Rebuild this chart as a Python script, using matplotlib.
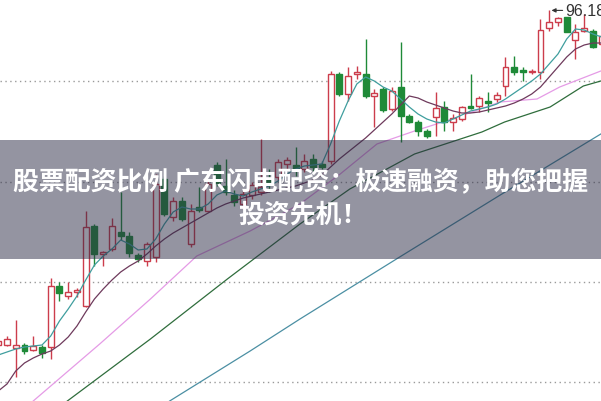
"""Candlestick chart with moving averages and a promo banner."""

import matplotlib
matplotlib.use("Agg")
import matplotlib.pyplot as plt
from matplotlib.patches import Rectangle

# candle index (one per trading day) and OHLC prices
DAYS = list(range(-1, 69))
OPEN = [62.72, 62.72, 62.42, 62.72, 62.22, 62.52, 62.52, 68.62, 67.62, 68.02,
        66.62, 74.62, 71.82, 72.32, 74.02, 73.62, 71.72, 71.12, 71.52, 79.32,
        75.52, 77.12, 72.82, 76.52, 76.12, 80.72, 78.62, 77.72, 76.82, 77.72,
        78.02, 79.32, 79.52, 80.82, 80.72, 80.32, 81.32, 80.82, 81.12, 89.82,
        87.82, 89.82, 89.82, 87.62, 88.32, 86.32, 88.52, 85.62, 85.02, 84.12,
        85.52, 86.52, 85.02, 85.32, 86.62, 86.62, 87.12, 87.32, 88.62, 90.52,
        90.22, 90.02, 90.02, 94.42, 95.02, 95.52, 93.22, 94.12, 94.12, 92.82]
HIGH = [63.52, 63.62, 65.22, 62.92, 63.62, 62.72, 69.42, 69.02, 69.02, 68.42,
        76.12, 74.82, 72.12, 75.42, 78.02, 74.02, 71.92, 73.02, 79.82, 79.62,
        77.52, 77.52, 76.82, 78.52, 79.12, 81.02, 81.32, 78.22, 78.12, 79.02,
        83.32, 80.32, 81.32, 81.52, 82.52, 81.82, 81.82, 81.12, 90.12, 90.02,
        90.52, 90.62, 93.32, 88.32, 88.52, 88.52, 93.02, 85.82, 85.22, 84.32,
        88.02, 87.12, 85.82, 86.62, 89.82, 87.62, 88.02, 88.02, 91.52, 91.62,
        90.52, 90.32, 95.32, 96.18, 95.52, 95.52, 94.82, 95.82, 94.32, 93.82]
LOW = [62.32, 62.62, 59.52, 61.82, 62.12, 61.42, 61.32, 67.12, 67.32, 67.52,
       66.52, 70.62, 70.62, 72.12, 73.22, 71.52, 71.02, 70.62, 71.02, 75.62,
       75.12, 75.12, 72.52, 76.02, 76.02, 78.62, 77.72, 76.62, 76.52, 77.32,
       77.72, 78.02, 79.12, 80.32, 79.62, 80.02, 80.12, 80.32, 80.82, 87.62,
       87.12, 89.32, 87.42, 84.52, 86.02, 86.12, 83.02, 84.92, 83.62, 83.42,
       83.62, 84.12, 84.12, 85.12, 86.32, 86.02, 86.02, 87.02, 87.62, 89.72,
       89.12, 89.82, 89.32, 94.12, 94.62, 94.02, 91.32, 94.02, 92.42, 92.62]
CLOSE = [63.12, 63.32, 62.72, 62.12, 62.62, 61.92, 68.62, 67.92, 68.02, 68.22,
         74.52, 71.82, 72.02, 74.62, 73.62, 71.92, 71.32, 72.82, 78.82, 75.82,
         77.12, 75.32, 76.12, 76.22, 78.82, 78.92, 78.02, 77.02, 77.82, 78.72,
         78.52, 78.82, 81.02, 81.22, 80.22, 81.12, 80.52, 80.52, 89.82, 87.82,
         89.62, 90.02, 87.62, 87.92, 86.22, 88.12, 85.62, 85.02, 84.12, 83.62,
         86.42, 85.02, 85.42, 86.52, 86.42, 87.42, 86.92, 87.72, 90.52, 90.02,
         90.02, 90.12, 94.22, 95.02, 95.42, 94.02, 94.02, 94.42, 92.52, 93.62]

# moving averages
MA5 = [61.72, 62.02, 62.32, 62.52, 62.62, 62.72, 63.62, 65.12, 66.32, 67.62,
       69.22, 70.72, 71.62, 72.32, 73.22, 72.82, 72.22, 72.32, 73.32, 74.82,
       76.02, 76.52, 76.32, 76.32, 76.82, 77.72, 78.12, 77.82, 77.62, 78.02,
       78.32, 78.62, 79.12, 79.82, 80.32, 80.62, 80.72, 80.82, 82.82, 85.12,
       87.12, 88.82, 89.52, 89.12, 88.52, 88.12, 87.32, 86.52, 85.82, 85.32,
       85.02, 84.92, 85.32, 85.72, 86.12, 86.32, 86.52, 86.82, 87.32, 87.92,
       88.52, 89.12, 89.82, 90.82, 91.82, 93.32, 94.32, 94.22, 93.82, 93.52]
MA10 = [58.12, 58.82, 60.12, 60.92, 61.42, 61.82, 62.12, 62.72, 63.52, 64.62,
        66.02, 67.32, 68.32, 69.22, 70.02, 70.62, 71.12, 71.82, 72.62, 73.32,
        73.92, 74.42, 74.92, 75.42, 75.92, 76.42, 76.82, 77.12, 77.42, 77.62,
        77.82, 78.02, 78.22, 78.42, 78.62, 78.92, 79.22, 79.72, 80.52, 81.32,
        82.02, 82.72, 83.42, 84.22, 85.02, 85.82, 86.72, 87.62, 87.42, 87.02,
        86.72, 86.42, 86.12, 85.92, 85.92, 86.02, 86.22, 86.42, 86.62, 86.92,
        87.32, 87.82, 88.52, 89.52, 90.52, 91.52, 92.32, 92.72, 92.92, 92.92]
MA20_X = [-1, 3.0, 10.6, 16.4, 21.7, 27.8, 33.5, 38.1, 42.3, 46.6, 50.9, 56.4,
          60.6, 63.2, 67.9, 69]
MA20 = [54.1, 57.12, 62.82, 67.32, 71.62, 74.12, 76.82, 79.82, 82.82, 84.12,
        85.32, 87.02, 87.32, 88.52, 90.12, 90.4]
MA30_X = [0, 6.9, 16.4, 25.2, 33.5, 39.2, 46.6, 54.3, 56.9, 62.1, 65.9, 67.9, 69]
MA30 = [52.6, 57.12, 63.32, 69.32, 74.82, 78.32, 81.82, 84.02, 85.02, 86.52,
        88.62, 89.12, 89.3]
MA60_X = [14, 18.6, 27.8, 33.5, 44.9, 56.4, 67.9, 69]
MA60 = [54.0, 57.12, 62.12, 65.32, 71.52, 77.72, 83.82, 84.4]

GRID_LEVELS = [89.12, 79.02, 69.02, 59.02]
PEAK_DAY = 62
PEAK_LABEL = "96.18"

TITLE_LINE1 = "股票配资比例 广东闪电配资：极速融资，助您把握"
TITLE_LINE2 = "投资先机！"

UP = "#cc3d4c"
DOWN = "#1f8a38"

fig = plt.figure(figsize=(6.01, 4.02), dpi=100)
ax = fig.add_axes([0, 0, 1, 1])
ax.set_xlim(-0.8, 67.92)
ax.set_ylim(57.12, 97.32)
ax.axis("off")

for level in GRID_LEVELS:
    ax.axhline(level, color="#9a9a9a", lw=1.0, ls=(0, (1, 2.5)), zorder=1)

body_w = 0.68
for d, o, h, l, c in zip(DAYS, OPEN, HIGH, LOW, CLOSE):
    up = c >= o
    col = UP if up else DOWN
    lo, hi = min(o, c), max(o, c)
    ax.vlines(d, l, lo, color=col, lw=1.0, zorder=3)
    ax.vlines(d, hi, h, color=col, lw=1.0, zorder=3)
    ax.add_patch(Rectangle((d - body_w / 2, lo), body_w, max(hi - lo, 0.08),
                           facecolor="white" if up else col, edgecolor=col,
                           lw=1.0, zorder=4))

ax.plot(DAYS, MA5, color="#3f9e9e", lw=0.9, zorder=5)
ax.plot(DAYS, MA10, color="#6e3a5c", lw=0.9, zorder=5)
ax.plot(MA20_X, MA20, color="#e59be6", lw=0.9, zorder=2)
ax.plot(MA30_X, MA30, color="#2f6d3c", lw=0.9, zorder=2)
ax.plot(MA60_X, MA60, color="#4b8fa3", lw=0.9, zorder=2)

peak = HIGH[DAYS.index(PEAK_DAY)]
ax.annotate(PEAK_LABEL, xy=(PEAK_DAY + 0.1, peak),
            xytext=(63.85, peak), va="center", ha="left",
            fontsize=11.5, color="#333333", family="Liberation Sans",
            arrowprops=dict(arrowstyle="-|>", color="#333333", lw=0.8,
                            mutation_scale=6, shrinkA=0, shrinkB=1))

fig.patches.append(Rectangle((0, 1 - 260 / 402), 1, 119 / 402,
                             transform=fig.transFigure, facecolor="#2b2b45",
                             alpha=0.5, edgecolor="none", zorder=10))

cjk = ["Noto Sans CJK SC", "DejaVu Sans"]
fig.text(0.5, 1 - 183 / 402, TITLE_LINE1, ha="center", va="center",
         fontsize=18.6, fontweight="bold", color="white", family=cjk, zorder=11)
fig.text(0.505, 1 - 215 / 402, TITLE_LINE2, ha="center", va="center",
         fontsize=18.6, fontweight="bold", color="white", family=cjk, zorder=11)

fig.savefig("out.png", dpi=100)
